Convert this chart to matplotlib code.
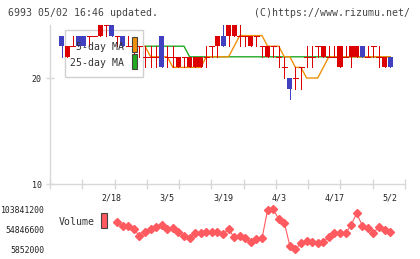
import numpy as np
import matplotlib
matplotlib.use("Agg")
import matplotlib.pyplot as plt
from matplotlib.patches import Rectangle

# daily candles (60 trading days up to 5/2)
opens  = [24, 22, 23, 24, 24, 24, 24, 24, 25, 25, 24, 24, 23, 23, 23, 22, 22, 22, 24, 22,
          22, 21, 22, 21, 21, 21, 22, 23, 23, 24, 24, 24, 24, 24, 23, 24, 23, 22, 23, 22,
          21, 20, 20, 21, 22, 22, 23, 22, 22, 22, 21, 22, 22, 22, 23, 22, 23, 22, 21, 22]
highs  = [24, 23, 24, 24, 24, 24, 24, 25, 25, 25, 24, 24, 24, 23, 23, 23, 23, 23, 24, 23,
          23, 22, 22, 22, 22, 22, 23, 23, 24, 25, 25, 25, 25, 24, 24, 24, 23, 23, 23, 23,
          22, 20, 21, 21, 23, 23, 23, 23, 23, 23, 23, 23, 23, 23, 23, 23, 23, 23, 22, 22]
lows   = [22, 22, 23, 23, 23, 23, 24, 24, 24, 24, 23, 23, 23, 22, 22, 21, 21, 21, 21, 21,
          21, 21, 21, 21, 21, 21, 21, 22, 22, 23, 23, 24, 23, 23, 23, 23, 22, 22, 22, 21,
          20, 18, 19, 19, 21, 21, 22, 22, 22, 22, 21, 22, 21, 22, 22, 22, 22, 21, 21, 21]
closes = [23, 23, 23, 23, 23, 24, 24, 25, 25, 24, 24, 23, 23, 23, 23, 22, 22, 22, 21, 22,
          22, 22, 22, 22, 22, 22, 22, 23, 24, 23, 25, 25, 24, 24, 24, 24, 23, 23, 23, 22,
          21, 19, 20, 21, 22, 22, 23, 23, 22, 22, 23, 22, 23, 23, 22, 22, 23, 22, 22, 21]

# moving averages, visible from day 15 on
ma_start = 15
ma5 = [23, 22, 22, 22, 22, 21, 21, 21, 21, 21, 21, 22, 22, 22, 22, 22, 23, 24, 24, 24,
       24, 24, 23, 23, 23, 22, 22, 21, 21, 20, 20, 20, 21, 22, 22, 22, 22, 22, 22, 22,
       22, 22, 22, 22, 22]
ma25 = [23, 23, 23, 23, 23, 23, 23, 23, 22, 22, 22, 22, 22, 22, 22, 22, 22, 22, 22, 22,
        22, 22, 22, 22, 22, 22, 22, 22, 22, 22, 22, 22, 22, 22, 22, 22, 22, 22, 22, 22,
        22, 22, 22, 22, 22]

# volume, last 50 days
vol_start = 10
volume = [72.0, 63.0, 63.0, 54.8, 38.5, 49.1, 54.8, 61.4, 65.5, 55.7,
          57.3, 49.1, 38.5, 32.8, 45.0, 45.0, 49.1, 47.5, 47.5, 42.6,
          54.8, 35.2, 38.5, 32.8, 23.0, 30.3, 32.8, 102.2, 104.6, 79.3,
          71.2, 14.0, 5.9, 20.5, 27.1, 24.6, 20.5, 24.6, 35.2, 45.0,
          45.0, 45.0, 65.5, 94.0, 63.8, 57.3, 46.7, 59.7, 53.2, 49.1]
vol_ticks = [5852000, 54846600, 103841200]

date_idx = [9, 19, 29, 39, 49, 59]
date_labels = ["2/18", "3/5", "3/19", "4/3", "4/17", "5/2"]

RED = "#dd0000"
BLUE = "#4040c0"
ORANGE = "#f0900a"
GREEN = "#22aa22"
VOLC = "#ff5a60"
AXC = "#d8d8d8"
FONT = "DejaVu Sans Mono"

W, H = 420, 259
fig = plt.figure(figsize=(W / 100, H / 100), dpi=100)

# x in pixels: candle i sits at 61.5 + 5.57*i
step, x0 = 5.57, 61.5
xmin = (50 - x0) / step
xmax = (405 - x0) / step

ax = fig.add_axes([50 / W, 1 - 184 / H, 355 / W, 159 / H])
ax.set_xlim(xmin, xmax)
ax.set_ylim(10, 25)
for s in ["top", "right"]:
    ax.spines[s].set_visible(False)
for s in ["left", "bottom"]:
    ax.spines[s].set_color(AXC)
    ax.spines[s].set_linewidth(1)
ax.set_xticks(np.linspace(xmin, xmax, 12))
ax.set_xticklabels([])
ax.set_xticks(date_idx, date_labels, minor=True)
ax.tick_params(axis="x", which="major", direction="inout", length=7, color=AXC, width=1)
ax.tick_params(axis="x", which="minor", length=0, pad=7, labelsize=6, labelcolor="#222")
ax.set_yticks([10, 20])
ax.tick_params(axis="y", direction="inout", length=6, color=AXC, width=1, pad=3,
               labelsize=6, labelcolor="#222")
for lab in ax.get_xticklabels(minor=True) + ax.get_yticklabels():
    lab.set_fontfamily(FONT)

# moving averages (under the legend box and candles)
xs_ma = np.arange(ma_start, ma_start + len(ma5))
ax.plot(xs_ma, ma25, color=GREEN, lw=1.0, zorder=1)
ax.plot(xs_ma, ma5, color=ORANGE, lw=1.0, zorder=1.1)

# candles
bw = 0.9
for i in range(len(opens)):
    o, h, l, c = opens[i], highs[i], lows[i], closes[i]
    col = RED if c >= o else BLUE
    ax.vlines(i, l, h, color=col, lw=0.72, zorder=3, antialiased=False)
    if o == c:
        ax.hlines(c, i - bw / 2, i + bw / 2, color=col, lw=0.72, zorder=3, antialiased=False)
    else:
        ax.add_patch(Rectangle((i - bw / 2, min(o, c)), bw, abs(c - o),
                               facecolor=col, edgecolor="none", zorder=3, antialiased=False))

# legend box
tf = fig.transFigure
ax.add_patch(Rectangle((65 / W, 1 - 77 / H), 78 / W, 47 / H, transform=tf,
                       facecolor="white", edgecolor="#d0d0d0", lw=1, zorder=2, clip_on=False))
ax.text(124.5 / W, 1 - 46.5 / H, "5-day MA", transform=tf, ha="right", va="center",
        fontsize=7.1, family=FONT, color="#333", zorder=4)
ax.text(124.5 / W, 1 - 63.3 / H, "25-day MA", transform=tf, ha="right", va="center",
        fontsize=7.1, family=FONT, color="#333", zorder=4)
ax.add_patch(Rectangle((131.7 / W, 1 - 52.3 / H), 5.6 / W, 15.6 / H, transform=tf,
                       facecolor=ORANGE, edgecolor="#444", lw=0.8, zorder=4, clip_on=False))
ax.add_patch(Rectangle((131.7 / W, 1 - 69.3 / H), 5.6 / W, 15 / H, transform=tf,
                       facecolor=GREEN, edgecolor="#444", lw=0.8, zorder=4, clip_on=False))

# volume panel
ax2 = fig.add_axes([50 / W, 1 - 249.3 / H, 355 / W, 40 / H])
ax2.set_xlim(xmin, xmax)
ax2.set_ylim(vol_ticks[0], vol_ticks[-1])
for s in ax2.spines.values():
    s.set_visible(False)
ax2.set_xticks([])
ax2.set_yticks(vol_ticks, [str(v) for v in vol_ticks])
ax2.tick_params(axis="y", length=0, pad=4, labelsize=5.9, labelcolor="#222")
for lab in ax2.get_yticklabels():
    lab.set_fontfamily(FONT)
xs_v = np.arange(vol_start, vol_start + len(volume))
ax2.plot(xs_v, np.array(volume) * 1e6, color=VOLC, lw=0.8, marker="D", ms=4.0,
         mec=VOLC, mfc=VOLC, clip_on=False)

fig.text(94.5 / W, 1 - 222.3 / H, "Volume", ha="right", va="center",
         fontsize=7.1, family=FONT, color="#333")
fig.patches.append(Rectangle((101 / W, 1 - 228.3 / H), 6.5 / W, 15.6 / H, transform=tf,
                             facecolor=VOLC, edgecolor="#444", lw=0.8, figure=fig))

# header
fig.text(8 / W, 1 - 12.5 / H, "6993 05/02 16:46 updated.", ha="left", va="center",
         fontsize=7.1, family=FONT, color="#444")
fig.text(410.5 / W, 1 - 12.5 / H, "(C)https://www.rizumu.net/", ha="right", va="center",
         fontsize=7.1, family=FONT, color="#444")

fig.savefig("out.png", dpi=100)
